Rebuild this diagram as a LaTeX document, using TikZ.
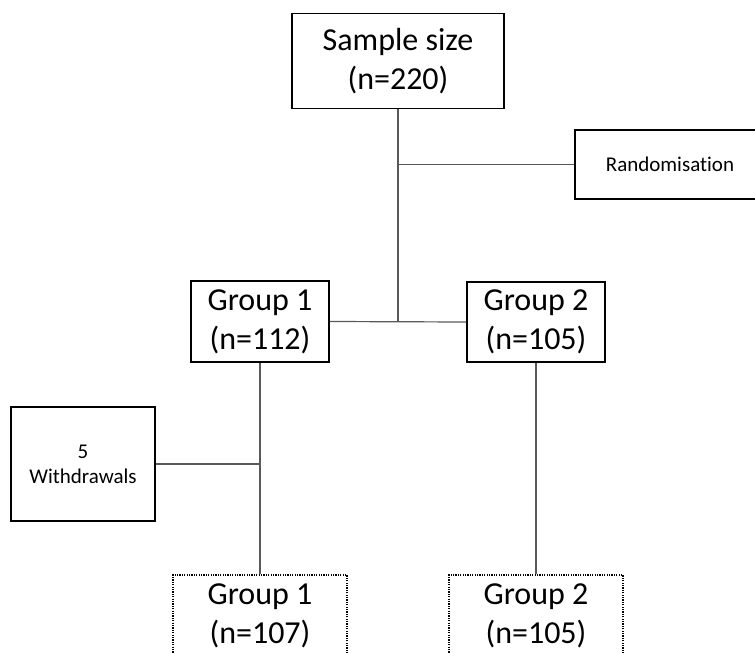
\documentclass[tikz,border=0pt]{standalone}
\usepackage{fontspec}
\setmainfont{Carlito}[Ligatures=NoCommon]
\usepackage{tikz}
\usetikzlibrary{positioning, calc}

\begin{document}
\begin{tikzpicture}[
    x=1pt, y=-1pt,
    box/.style={draw, line width=1.6pt, align=center, inner sep=0pt,
        font=\fontsize{32}{39}\selectfont},
    smallbox/.style={box, font=\fontsize{21}{25}\selectfont},
    dotbox/.style={box, line width=1.5pt, dash pattern=on 1.2pt off 1.2pt},
    link/.style={draw, line width=1.2pt, black!65}
]
\useasboundingbox (0,0) rectangle (755,653);
\clip (0,0) rectangle (755,653);

% Top box and randomisation
\node[box, minimum width=212pt, minimum height=95pt] (sample) at (398,61)
    {Sample size\\(n=220)};
\node[smallbox, minimum width=190pt, minimum height=69pt] (random) at (670,164.5)
    {Randomisation};

% Allocated groups
\node[box, minimum width=138pt, minimum height=81pt] (grpOne) at (260,321.5)
    {Group 1\\(n=112)};
\node[box, minimum width=138pt, minimum height=80pt] (grpTwo) at (536,322)
    {Group 2\\(n=105)};

% Withdrawals
\node[smallbox, minimum width=144pt, minimum height=114pt] (withdraw) at (83,464)
    {5\\Withdrawals};

% Analysed groups (dotted)
\node[dotbox, minimum width=174pt, minimum height=82pt] (finOne) at (260,616)
    {Group 1\\(n=107)};
\node[dotbox, minimum width=174pt, minimum height=82pt] (finTwo) at (536,616)
    {Group 2\\(n=105)};

% Junctions
\coordinate (jRand) at (398,164.5);
\coordinate (jSplit) at (398,322);
\coordinate (jDrop) at (260,464);

% Connectors
\draw[link] (sample.south) -- (jSplit);
\draw[link] (jRand) -- (random.west);
\draw[link] (grpOne.east) -- (grpTwo.west);
\draw[link] (grpOne.south) -- (finOne.north);
\draw[link] (withdraw.east) -- (jDrop);
\draw[link] (grpTwo.south) -- (finTwo.north);
\end{tikzpicture}
\end{document}
